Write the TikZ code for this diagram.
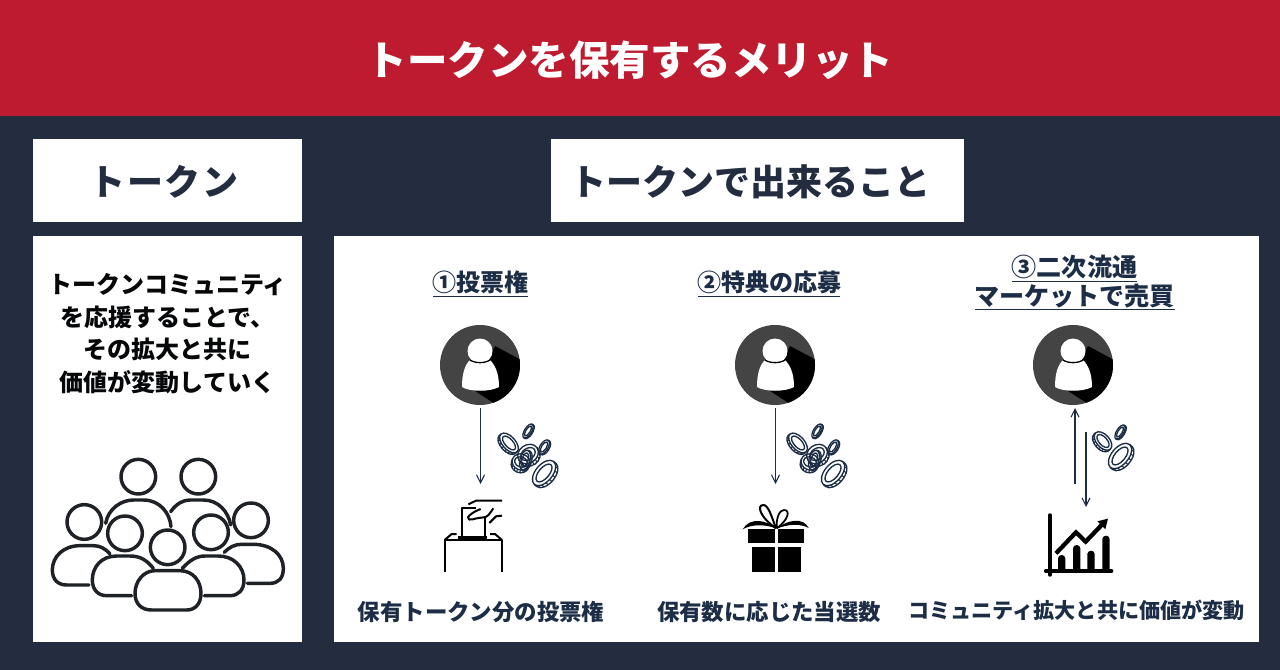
\documentclass[tikz,border=0pt]{standalone}
\usepackage{fontspec}
\setmainfont{Noto Sans CJK JP}
\usetikzlibrary{arrows.meta}
\definecolor{navy}{HTML}{232D3F}
\definecolor{inknavy}{HTML}{1C2D45}
\definecolor{bandred}{HTML}{BE1A30}
\definecolor{avatar}{HTML}{444444}
\definecolor{inkline}{HTML}{1E2226}
\newcommand{\coinshape}[5]{%
 \begin{scope}[shift={(#1,#2)},rotate=#3,draw=inknavy,line width=1.0]
  \draw (0,0) ellipse [x radius=#4,y radius=#5];
  \draw (0,0) ellipse [x radius=#4*0.72,y radius=#5*0.62];
  \draw (-#4,0) -- (-#4,#5*0.36) arc[start angle=180,end angle=0,x radius=#4,y radius=#5] -- (#4,0);
  \foreach \t in {15,35,...,175}{
    \draw[line width=0.8] ({#4*cos(\t)},{#5*sin(\t)}) -- ({#4*cos(\t)},{#5*sin(\t)+#5*0.36});
  }
 \end{scope}}
\newcommand{\avatarshape}[3]{%
 \node[avatarbase] (#1) at (#2,#3) {};
 \begin{scope}[shift={(#2,#3)}]
  \begin{scope}
   \clip (0,0) circle [radius=40];
   \fill[black] (15,-19) -- (60,5) -- (60,60) -- (32,50) -- (-8,24) -- cycle;
  \end{scope}
  \fill[white] (-10,-5) -- (10,-5) .. controls (15,0) and (19,8) .. (19,22)
     .. controls (10,27) and (-10,27) .. (-18,22) .. controls (-18,8) and (-15,0) .. (-10,-5) -- cycle;
  \fill[white] (0,-14) circle [radius=12.5];
  \draw[black,line width=1] (-10,-5) .. controls (-5,-1.5) and (5,-1.5) .. (10,-5);
 \end{scope}}
\tikzset{
 x=0.75pt,y=-0.75pt,
 avatarbase/.style={circle,fill=avatar,minimum size=60pt,inner sep=0pt},
 panel/.style={fill=white,draw=none},
 flow/.style={draw=inknavy,line width=0.85pt,-{Straight Barb[length=6pt,width=6pt,line width=0.8pt]}},
 crowdline/.style={draw=inkline,line width=2.6,line cap=round,line join=round},
 icon/.style={draw=black,line width=1.5pt,line cap=butt,line join=round},
 heading/.style={font=\bfseries\fontsize{18}{22}\selectfont,text=inknavy,inner sep=0pt,anchor=base},
 caption/.style={font=\bfseries\fontsize{16.8}{20}\selectfont,text=inknavy,inner sep=0pt},
 under/.style={draw=inknavy,line width=1.3pt},
}
\begin{document}
\begin{tikzpicture}
\useasboundingbox (0,0) rectangle (1280,670);
\fill[navy] (0,0) rectangle (1280,670);
\fill[bandred] (0,0) rectangle (1280,116);
\fill[panel] (33,139) rectangle (302,222.5);
\fill[panel] (551,139) rectangle (964,222.5);
\fill[panel] (33,236) rectangle (302,642);
\fill[panel] (334,236) rectangle (1259,642);

\node[font=\bfseries\fontsize{30.4}{36}\selectfont,text=white,inner sep=0pt] (title) at (630,60.5) {トークンを保有するメリット};
\node[font=\bfseries\fontsize{27}{32}\selectfont,text=navy,inner sep=0pt] (h1) at (164,181.5) {\addfontfeature{LetterSpace=4.5}トークン};
\node[font=\bfseries\fontsize{27}{32}\selectfont,text=navy,inner sep=0pt] (h2) at (750,181.5) {トークンで出来ること};
\node[font=\bfseries\fontsize{18}{24.5}\selectfont,text=black!85!navy,inner sep=0pt,align=center] (lead) at (167.5,333.5) {トークンコミュニティ\\を応援することで、\\その拡大と共に\\価値が変動していく};

\node[heading] (c1) at (480.5,291) {①投票権};
\node[heading] (c2) at (769,291) {②特典の応募};
\node[heading,font=\bfseries\fontsize{18.8}{22}\selectfont] (c3a) at (1074.5,276.5) {③二次流通};
\node[heading,font=\bfseries\fontsize{18.8}{22}\selectfont] (c3b) at (1074.5,305.5) {マーケットで売買};
\coordinate (u1a) at (433,296.5); \coordinate (u1b) at (528,296.5);
\coordinate (u2a) at (698,296.5); \coordinate (u2b) at (840,296.5);
\coordinate (u3a) at (1012,281.5); \coordinate (u3b) at (1137,281.5);
\coordinate (u4a) at (975,309.5); \coordinate (u4b) at (1175,309.5);
\draw[under] (u1a) -- (u1b);
\draw[under] (u2a) -- (u2b);
\draw[under] (u3a) -- (u3b);
\draw[under] (u4a) -- (u4b);

\node[caption] (t1) at (481,612.5) {保有トークン分の投票権};
\node[caption] (t2) at (769,612.5) {保有数に応じた当選数};
\node[caption,font=\bfseries\fontsize{15.85}{20}\selectfont] (t3) at (1076.5,610.5) {コミュニティ拡大と共に価値が変動};

\avatarshape{p1}{480}{365}
\avatarshape{p2}{775}{365}
\avatarshape{p3}{1073}{365}

\coordinate (a1s) at (480.5,408); \coordinate (a1e) at (480.5,484);
\coordinate (a2s) at (775.5,408); \coordinate (a2e) at (775.5,484);
\coordinate (a3s) at (1075,484); \coordinate (a3e) at (1075,408);
\coordinate (a4s) at (1086,432); \coordinate (a4e) at (1086,507);
\draw[flow] (a1s) -- (a1e);
\draw[flow] (a2s) -- (a2e);
\draw[flow] (a3s) -- (a3e);
\draw[flow] (a4s) -- (a4e);

% coins 1 and 2
\foreach \dx in {0,289}{
 \begin{scope}[xshift=\dx*0.75pt]
  \coinshape{528}{431}{58}{8}{3.5}
  \coinshape{509}{443}{-48}{12}{6.5}
  \coinshape{544}{447}{58}{8}{4}
  \coinshape{528}{454}{35}{11}{9}
  \coinshape{521}{462}{-20}{9}{8}
  \coinshape{525}{460}{75}{10}{5}
  \coinshape{544}{473}{50}{15}{8.5}
 \end{scope}
}
% coins 3
\coinshape{1120}{432}{58}{8}{3.5}
\coinshape{1103}{441}{-48}{11}{6.5}
\coinshape{1120}{456}{50}{15}{8.5}

% ballot
\begin{scope}[shift={(440,495)},scale=1/3]
 \draw[icon] (14,230) -- (14,135) -- (186,135) -- (186,230);
 \draw[icon] (14,135) -- (35,117) -- (50,117);
 \draw[icon] (186,135) -- (165,117) -- (150,117);
 \draw[icon,line width=2pt] (55,128) -- (142,128);
 \draw[icon] (65,128) -- (65,38) -- (108,38);
 \draw[icon] (135,128) -- (135,68);
 \draw[icon] (186,17) -- (108,17) -- (85,28);
 \draw[icon] (122,42) .. controls (105,48) and (90,58) .. (84,66) .. controls (82,74) and (90,76) .. (98,73) .. controls (115,68) and (128,68) .. (137,66) .. controls (150,60) and (152,48) .. (160,40);
 \draw[icon] (186,62) -- (168,64) -- (148,84);
\end{scope}

% gift
\begin{scope}[shift={(730,400)},scale=1/3]
 \fill[black] (55,388) rectangle (135,430);
 \fill[black] (145,388) rectangle (222,430);
 \fill[black] (67,442) rectangle (135,515);
 \fill[black] (145,442) rectangle (212,515);
\end{scope}
\begin{scope}[shift={(740,500)},scale=1/3]
 \draw[black,line width=1.5pt] (108,85) .. controls (95,50) and (85,15) .. (70,15) .. controls (50,15) and (58,50) .. (108,85);
 \draw[black,line width=1.3pt] (110,85) .. controls (108,50) and (120,30) .. (132,30) .. controls (152,30) and (145,60) .. (110,85);
 \fill[black] (110,86) .. controls (80,60) and (30,50) .. (8,88) .. controls (35,72) and (75,72) .. (110,86) -- cycle;
 \fill[black] (110,86) .. controls (140,60) and (190,50) .. (206,84) .. controls (180,70) and (145,72) .. (110,86) -- cycle;
\end{scope}

% chart
\begin{scope}[shift={(1030,400)},scale=1/3]
 \draw[black,line width=2.6pt,line cap=round] (60,345) -- (60,525);
 \draw[black,line width=2.6pt,line cap=round] (47,513) -- (245,513);
 \foreach \bx/\by in {95/465,140/435,183/452,228/407}{
  \fill[black] (\bx-11,513) -- (\bx-11,\by+10) arc[start angle=180,end angle=0,x radius=11,y radius=-10] -- (\bx+11,513) -- cycle;
 }
 \draw[black,line width=3.2pt] (78,460) -- (138,397) -- (167,425) -- (215,375);
 \fill[black] (234,356) -- (226,388) -- (202,364) -- cycle;
\end{scope}

% crowd
\begin{scope}[shift={(40,450)},scale=1/3]
 \foreach \hx/\hy in {295/80,475/80,133/216,255/250,513/247,633/211,383/292}{
  \draw[crowdline] (\hx,\hy) circle [radius=52];
 }
 \draw[crowdline] (197,220) .. controls (205,175) and (245,150) .. (280,150) -- (310,150) .. controls (360,150) and (390,190) .. (393,230);
 \draw[crowdline] (392,185) .. controls (410,160) and (430,150) .. (450,150) -- (490,150) .. controls (535,150) and (565,185) .. (572,225);
 \draw[crowdline] (210,312) .. controls (195,295) and (180,287) .. (160,287) -- (120,287) .. controls (70,287) and (37,320) .. (37,360) .. controls (37,390) and (55,405) .. (80,405) -- (147,405);
 \draw[crowdline] (340,355) .. controls (320,330) and (300,318) .. (270,318) -- (230,318) .. controls (185,318) and (157,350) .. (157,390) .. controls (157,420) and (175,437) .. (200,437) -- (275,437);
 \draw[crowdline] (427,355) .. controls (450,330) and (470,318) .. (495,318) -- (535,318) .. controls (580,318) and (612,350) .. (612,390) .. controls (612,420) and (595,437) .. (570,437) -- (493,437);
 \draw[crowdline] (553,307) .. controls (570,290) and (585,283) .. (605,283) -- (640,283) .. controls (695,283) and (730,315) .. (730,355) .. controls (730,385) and (715,400) .. (690,400) -- (622,400);
 \draw[crowdline] (345,362) -- (420,362) .. controls (460,362) and (483,395) .. (483,430) .. controls (483,462) and (465,480) .. (440,480) -- (335,480) .. controls (305,480) and (285,462) .. (285,430) .. controls (285,395) and (310,362) .. (345,362) -- cycle;
\end{scope}
\end{tikzpicture}
\end{document}
